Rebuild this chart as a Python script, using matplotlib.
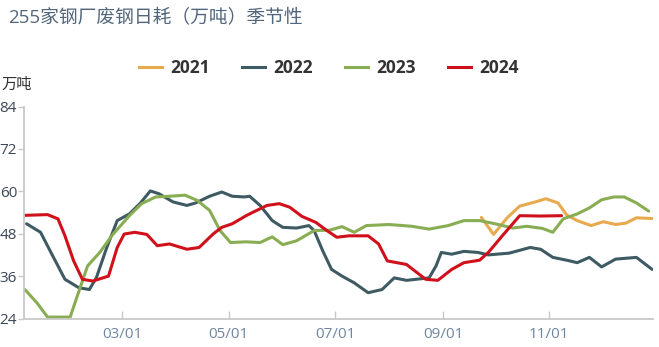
import matplotlib
matplotlib.use("Agg")
import matplotlib.pyplot as plt
from matplotlib.lines import Line2D

plt.rcParams['font.family'] = ['Open Sans', 'Noto Sans CJK SC', 'DejaVu Sans']

title = "255家钢厂废钢日耗（万吨）季节性"
unit = "万吨"
series_names = ["2021", "2022", "2023", "2024"]
colors = ["#e8aa4e", "#3e5a62", "#88ad52", "#d0101a"]

# x = day of year (0 = Jan 1)
d2021 = [265, 272, 280, 287, 296, 302, 309, 314, 320, 328, 335, 342, 348, 354, 363]
v2021 = [52.6, 47.8, 52.6, 55.8, 57.0, 57.9, 56.7, 53.3, 51.7, 50.3, 51.4, 50.6, 51.0, 52.5, 52.3]

d2022 = [4, 12, 19, 26, 34, 40, 44, 50, 56, 63, 69, 75, 80, 88, 96, 101, 109, 116, 122, 129,
         132, 138, 145, 151, 159, 166, 169, 174, 179, 185, 192, 200, 208, 215, 222, 235, 239, 242,
         248, 255, 263, 269, 281, 293, 299, 306, 314, 320, 327, 334, 342, 354, 363]
v2022 = [50.8, 48.4, 41.7, 35.1, 32.7, 32.2, 35.5, 44.1, 51.7, 53.6, 56.5, 60.1, 59.3, 57.0, 56.0,
         56.7, 58.6, 59.8, 58.6, 58.4, 58.6, 56.0, 51.7, 49.8, 49.6, 50.3, 48.9, 43.1, 37.9, 36.0,
         34.1, 31.3, 32.2, 35.5, 34.8, 35.5, 38.9, 42.7, 42.2, 43.0, 42.7, 42.0, 42.5, 44.1, 43.6,
         41.3, 40.5, 39.8, 41.3, 38.6, 40.8, 41.3, 37.9]

d2023 = [3, 10, 16, 29, 34, 39, 46, 53, 63, 70, 78, 86, 95, 102, 109, 115, 121, 130, 138, 145,
         151, 159, 169, 178, 185, 192, 199, 212, 225, 235, 246, 255, 264, 273, 283, 291, 300, 306,
         309, 312, 320, 327, 334, 341, 347, 354, 361]
v2023 = [32.2, 28.4, 24.4, 24.4, 31.7, 38.9, 42.7, 47.5, 53.1, 56.5, 58.4, 58.6, 58.9, 57.4, 54.6,
         48.9, 45.5, 45.7, 45.5, 47.1, 44.9, 46.0, 48.9, 49.0, 50.0, 48.4, 50.3, 50.6, 50.1, 49.3,
         50.3, 51.7, 51.7, 50.8, 49.6, 50.1, 49.5, 48.4, 50.3, 52.2, 53.6, 55.3, 57.6, 58.4, 58.4,
         56.7, 54.4]

d2024 = [3, 16, 22, 26, 31, 36, 42, 51, 56, 60, 66, 73, 79, 86, 96, 103, 111, 116, 122, 130,
         134, 142, 149, 155, 162, 170, 176, 182, 189, 200, 206, 211, 222, 233, 240, 248, 255, 264,
         269, 277, 287, 299, 311]
v2024 = [53.2, 53.4, 52.2, 47.4, 40.3, 35.1, 34.6, 36.0, 44.1, 47.9, 48.4, 47.8, 44.6, 45.1, 43.6,
         44.1, 47.9, 49.8, 50.8, 53.1, 54.1, 56.0, 56.5, 55.5, 52.9, 51.2, 49.0, 47.0, 47.4, 47.4,
         45.1, 40.3, 39.3, 35.1, 34.8, 37.9, 39.8, 40.5, 42.7, 47.4, 53.1, 53.0, 53.1]

xtick_pos = [59, 120, 181, 243, 304]
xtick_labels = ["03/01", "05/01", "07/01", "09/01", "11/01"]
ytick_vals = [24, 36, 48, 60, 72, 84]

fig = plt.figure(figsize=(6.59, 3.47), dpi=100)
ax = fig.add_axes([24/659, (347-318.5)/347, (653-24)/659, (318.5-106.5)/347])

data = [(d2021, v2021), (d2022, v2022), (d2023, v2023), (d2024, v2024)]
for (d, v), c, n in zip(data, colors, series_names):
    ax.plot(d, v, color=c, lw=2.2, solid_joinstyle='round', solid_capstyle='round', label=n)

ax.set_xlim(2.5, 363.5)
ax.set_ylim(24, 84)
ax.set_yticks(ytick_vals)
ax.set_xticks(xtick_pos)
ax.set_xticklabels(xtick_labels)
for s in ['top', 'right']:
    ax.spines[s].set_visible(False)
for s in ['left', 'bottom']:
    ax.spines[s].set_color('#c8c8c8')
    ax.spines[s].set_linewidth(1.3)
ax.tick_params(axis='y', direction='out', length=4, width=1, color='#c8c8c8',
               labelsize=11, labelcolor='#3a4656', pad=1)
ax.tick_params(axis='x', direction='in', length=6, width=1, color='#c8c8c8',
               labelsize=11, labelcolor='#6f86a0', pad=6)

fig.text(8/659, 1 - 18/347, title, fontsize=13.5, color='#52667b', va='center', ha='left')
fig.text(1/659, 1 - 85/347, unit, fontsize=11, color='#333333', va='center', ha='left')

handles = [Line2D([], [], color=c, lw=2.2) for c in colors]
fig.legend(handles, series_names, loc='center', bbox_to_anchor=(329/659, 1 - 68/347), ncol=4,
           frameon=False, handlelength=1.3, handletextpad=0.5, columnspacing=1.85,
           prop={'weight': 'bold', 'size': 12.5, 'family': ['Open Sans', 'DejaVu Sans']},
           labelcolor='#333333', borderpad=0)

fig.savefig("out.png", dpi=100)
